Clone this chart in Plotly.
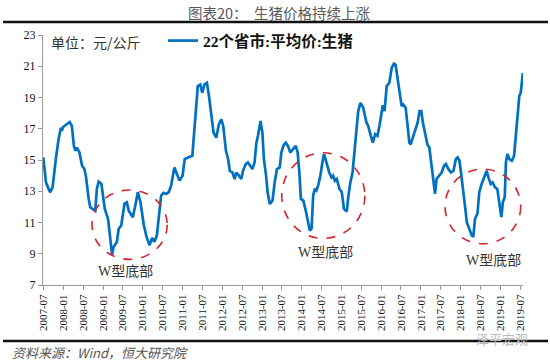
import plotly.graph_objects as go

# ---- data (22个省市:平均价:生猪, 元/公斤) ----
dates = [
    "2007-07-01", "2007-07-25", "2007-09-01", "2007-09-24", "2007-10-24", "2007-11-18",
    "2007-12-10", "2007-12-19", "2007-12-28", "2008-01-28", "2008-02-28", "2008-03-19",
    "2008-04-07", "2008-04-22", "2008-05-04", "2008-05-28", "2008-06-21", "2008-07-13",
    "2008-07-28", "2008-08-21", "2008-09-04", "2008-10-04", "2008-10-21", "2008-11-04",
    "2008-11-21", "2008-12-16", "2008-12-27", "2009-01-16", "2009-02-15", "2009-03-07",
    "2009-03-24", "2009-04-07", "2009-05-07", "2009-05-24", "2009-06-16", "2009-07-16",
    "2009-08-07", "2009-08-24", "2009-10-01", "2009-10-24", "2009-11-16", "2009-12-10",
    "2010-01-10", "2010-02-04", "2010-03-04", "2010-03-27", "2010-04-18", "2010-05-10",
    "2010-05-27", "2010-06-18", "2010-07-10", "2010-08-04", "2010-08-27", "2010-09-18",
    "2010-10-18", "2010-11-10", "2010-12-04", "2011-01-01", "2011-01-21", "2011-02-21",
    "2011-04-01", "2011-04-13", "2011-05-01", "2011-05-21", "2011-06-13", "2011-07-01",
    "2011-07-21", "2011-08-13", "2011-09-01", "2011-09-21", "2011-10-13", "2011-11-07",
    "2011-12-01", "2011-12-24", "2012-01-10", "2012-02-04", "2012-02-24", "2012-03-10",
    "2012-04-04", "2012-04-24", "2012-05-10", "2012-06-04", "2012-06-24", "2012-07-10",
    "2012-08-04", "2012-08-24", "2012-09-10", "2012-10-04", "2012-10-24", "2012-11-10",
    "2012-11-24", "2012-12-18", "2013-01-04", "2013-01-18", "2013-02-07", "2013-02-21",
    "2013-03-13", "2013-04-07", "2013-04-27", "2013-05-18", "2013-06-13", "2013-06-27",
    "2013-07-18", "2013-08-07", "2013-08-27", "2013-09-18", "2013-10-13", "2013-11-07",
    "2013-11-24", "2013-12-10", "2013-12-24", "2014-01-16", "2014-02-10", "2014-03-01",
    "2014-03-16", "2014-04-01", "2014-04-16", "2014-05-01", "2014-05-16", "2014-06-01",
    "2014-06-21", "2014-07-10", "2014-07-24", "2014-08-16", "2014-09-10", "2014-10-01",
    "2014-10-16", "2014-11-01", "2014-11-19", "2014-12-13", "2015-01-04", "2015-01-24",
    "2015-02-19", "2015-03-04", "2015-03-24", "2015-04-13", "2015-04-27", "2015-05-13",
    "2015-06-04", "2015-06-25", "2015-07-20", "2015-08-19", "2015-09-04", "2015-09-28",
    "2015-10-16", "2015-11-07", "2015-11-28", "2015-12-16", "2016-01-01", "2016-01-16",
    "2016-02-01", "2016-02-21", "2016-03-16", "2016-04-07", "2016-04-27", "2016-05-13",
    "2016-05-28", "2016-06-16", "2016-07-07", "2016-07-21", "2016-08-13", "2016-08-28",
    "2016-09-16", "2016-09-28", "2016-10-16", "2016-11-10", "2016-12-01", "2016-12-19",
    "2017-01-04", "2017-01-19", "2017-02-10", "2017-03-01", "2017-03-19", "2017-04-04",
    "2017-04-19", "2017-05-01", "2017-05-10", "2017-05-24", "2017-06-18", "2017-07-10",
    "2017-08-01", "2017-08-18", "2017-09-10", "2017-10-04", "2017-10-27", "2017-11-18",
    "2017-12-04", "2017-12-21", "2018-01-04", "2018-01-16", "2018-01-27", "2018-02-13",
    "2018-02-26", "2018-03-19", "2018-04-13", "2018-04-27", "2018-05-13", "2018-06-04",
    "2018-06-21", "2018-07-13", "2018-07-28", "2018-08-13", "2018-08-28", "2018-09-13",
    "2018-10-04", "2018-10-21", "2018-11-13", "2018-12-04", "2018-12-21", "2019-01-10",
    "2019-01-24", "2019-02-10", "2019-02-21", "2019-03-07", "2019-03-24", "2019-04-16",
    "2019-05-07", "2019-05-21", "2019-06-07", "2019-06-24", "2019-07-07", "2019-07-21",
    "2019-07-27",
]
prices = [
    15.16, 13.57, 12.93, 13.25, 15.06, 16.33,
    17.07, 16.86, 17.10, 17.29, 17.43, 17.18,
    15.90, 15.59, 15.80, 15.48, 14.63, 14.42,
    13.89, 12.51, 11.98, 11.83, 11.76, 13.15,
    13.61, 13.46, 12.93, 11.87, 11.24, 10.17,
    8.94, 9.43, 9.75, 10.60, 10.80, 12.19,
    12.29, 11.76, 11.34, 12.10, 12.94, 12.30,
    10.82, 10.08, 9.55, 10.01, 9.76, 10.18,
    11.24, 12.73, 12.90, 12.83, 12.94, 13.36,
    14.52, 14.10, 13.68, 13.99, 15.06, 15.16,
    15.27, 16.33, 18.03, 19.73, 19.83, 19.30,
    19.83, 19.94, 19.09, 17.82, 16.75, 16.43,
    17.29, 17.60, 17.18, 15.59, 15.05, 14.31,
    14.20, 13.78, 14.20, 13.99, 13.78, 14.31,
    14.74, 14.84, 14.63, 14.42, 14.84, 16.11,
    16.54, 17.50, 16.75, 15.05, 13.99, 12.93,
    12.19, 12.40, 13.57, 14.42, 14.52, 15.48,
    15.95, 16.11, 15.90, 15.48, 15.69, 15.90,
    15.48, 14.20, 12.51, 12.40, 11.66, 10.91,
    10.49, 10.60, 12.73, 13.16, 13.05, 13.37,
    14.00, 14.85, 15.38, 14.85, 14.22, 13.89,
    14.00, 13.68, 13.79, 13.16, 12.94, 11.87,
    11.70, 12.62, 13.58, 14.20, 15.27, 16.96,
    18.13, 18.66, 18.35, 17.39, 17.18, 16.54,
    16.11, 16.65, 16.54, 17.18, 17.82, 18.50,
    18.13, 19.73, 19.94, 20.89, 21.17, 21.10,
    20.36, 19.30, 18.45, 18.56, 18.35, 17.39,
    16.11, 16.00, 16.43, 16.97, 17.39, 18.13,
    18.13, 17.39, 16.75, 16.00, 15.80, 14.95,
    14.31, 13.57, 12.83, 13.79, 14.00, 14.20,
    14.63, 14.74, 14.42, 14.20, 14.31, 15.06,
    15.16, 14.95, 14.20, 13.57, 12.73, 11.87,
    11.02, 10.60, 10.17, 10.08, 11.24, 11.56,
    12.94, 13.47, 13.79, 14.00, 14.31, 13.89,
    13.47, 13.57, 13.25, 13.15, 12.31, 11.35,
    12.31, 12.62, 14.85, 15.38, 15.06, 14.95,
    15.27, 16.54, 17.82, 19.10, 19.30, 20.36,
    20.57,
]

series_name = "22个省市:平均价:生猪"
tick_dates = ["%d-%s-01" % (2007 + (i + 1) // 2, "07" if i % 2 == 0 else "01") for i in range(25)]
y_ticks = [7, 9, 11, 13, 15, 17, 19, 21, 23]

# W-bottom highlight regions: (x0, x1, y0, y1) and label anchor
circles = [
    ("2008-09-21", "2010-08-13", 8.64, 13.08),
    ("2013-07-01", "2015-08-04", 9.98, 15.46),
    ("2017-08-10", "2019-07-07", 9.64, 14.42),
]
labels = [
    ("2009-07-25", 7.85),
    ("2014-08-10", 9.05),
    ("2018-10-27", 8.55),
]

SERIF = "Liberation Serif, Noto Sans CJK SC"
CJK = "Noto Sans CJK SC, Liberation Serif"

W, H = 550, 362
L, R, T, B = 43, 27, 35, 77
pw, ph = W - L - R, H - T - B


def px(x):
    return (x - L) / pw


def py(y):
    return (H - B - y) / ph


fig = go.Figure()
fig.add_trace(go.Scatter(
    x=dates, y=prices, mode="lines", name="<b>" + series_name + "</b>",
    line=dict(color="#0070C0", width=2.7),
))

for x0, x1, y0, y1 in circles:
    fig.add_shape(type="circle", xref="x", yref="y", x0=x0, x1=x1, y0=y0, y1=y1,
                  line=dict(color="#D9232D", width=1.6, dash="dash"))

for lx, ly in labels:
    fig.add_annotation(x=lx, y=ly, xref="x", yref="y", text="W型底部", showarrow=False,
                       font=dict(family=SERIF, size=14, color="#333333"))

# title
fig.add_annotation(x=px(279), y=py(13), xref="paper", yref="paper", xanchor="center", yanchor="middle",
                   text="图表20：  生猪价格持续上涨", showarrow=False,
                   font=dict(family=CJK, size=14.5, color="#595959"))
# rules
for yy in (22, 341):
    fig.add_shape(type="line", xref="paper", yref="paper", x0=px(3), x1=px(548),
                  y0=py(yy), y1=py(yy), line=dict(color="#111111", width=2.5))
# unit
fig.add_annotation(x=px(49), y=py(42), xref="paper", yref="paper", text="单位：元/公斤",
                   showarrow=False, xanchor="left", yanchor="middle",
                   font=dict(family=CJK, size=14, color="#333333"))
# source
fig.add_annotation(x=px(10), y=py(352), xref="paper", yref="paper",
                   text="<i>资料来源：Wind，恒大研究院</i>", showarrow=False,
                   xanchor="left", yanchor="middle",
                   font=dict(family=CJK, size=13, color="#555555"))
# watermark
fig.add_annotation(x=px(530), y=py(338), xref="paper", yref="paper", text="泽平宏观", showarrow=False,
                   xanchor="right", yanchor="middle",
                   font=dict(family=CJK, size=13, color="#BBBBBB"))

fig.update_layout(
    width=W, height=H,
    margin=dict(l=L, r=R, t=T, b=B, autoexpand=False),
    paper_bgcolor="white", plot_bgcolor="white",
    showlegend=True,
    legend=dict(x=px(163), y=py(41), xanchor="left", yanchor="middle",
                bgcolor="rgba(0,0,0,0)", itemwidth=30, borderwidth=0,
                font=dict(family=SERIF, size=15.5, color="#111111")),
    xaxis=dict(
        type="date", range=["2007-06-28", "2019-07-28"],
        tickvals=tick_dates, tickformat="%Y-%m", tickangle=-90,
        showgrid=False, zeroline=False,
        showline=True, linecolor="#999999", linewidth=1,
        ticks="outside", ticklen=4, tickcolor="#999999",
        tickfont=dict(family="Liberation Serif", size=11, color="#111111"),
    ),
    yaxis=dict(
        range=[7, 23], tickvals=y_ticks,
        showgrid=False, zeroline=False,
        showline=True, linecolor="#999999", linewidth=1,
        ticks="outside", ticklen=4, tickcolor="#999999",
        tickfont=dict(family="Liberation Serif", size=12, color="#111111"),
    ),
)

fig.write_html("out.html", config={"displayModeBar": False},
               post_script="document.body.style.margin='0';")
